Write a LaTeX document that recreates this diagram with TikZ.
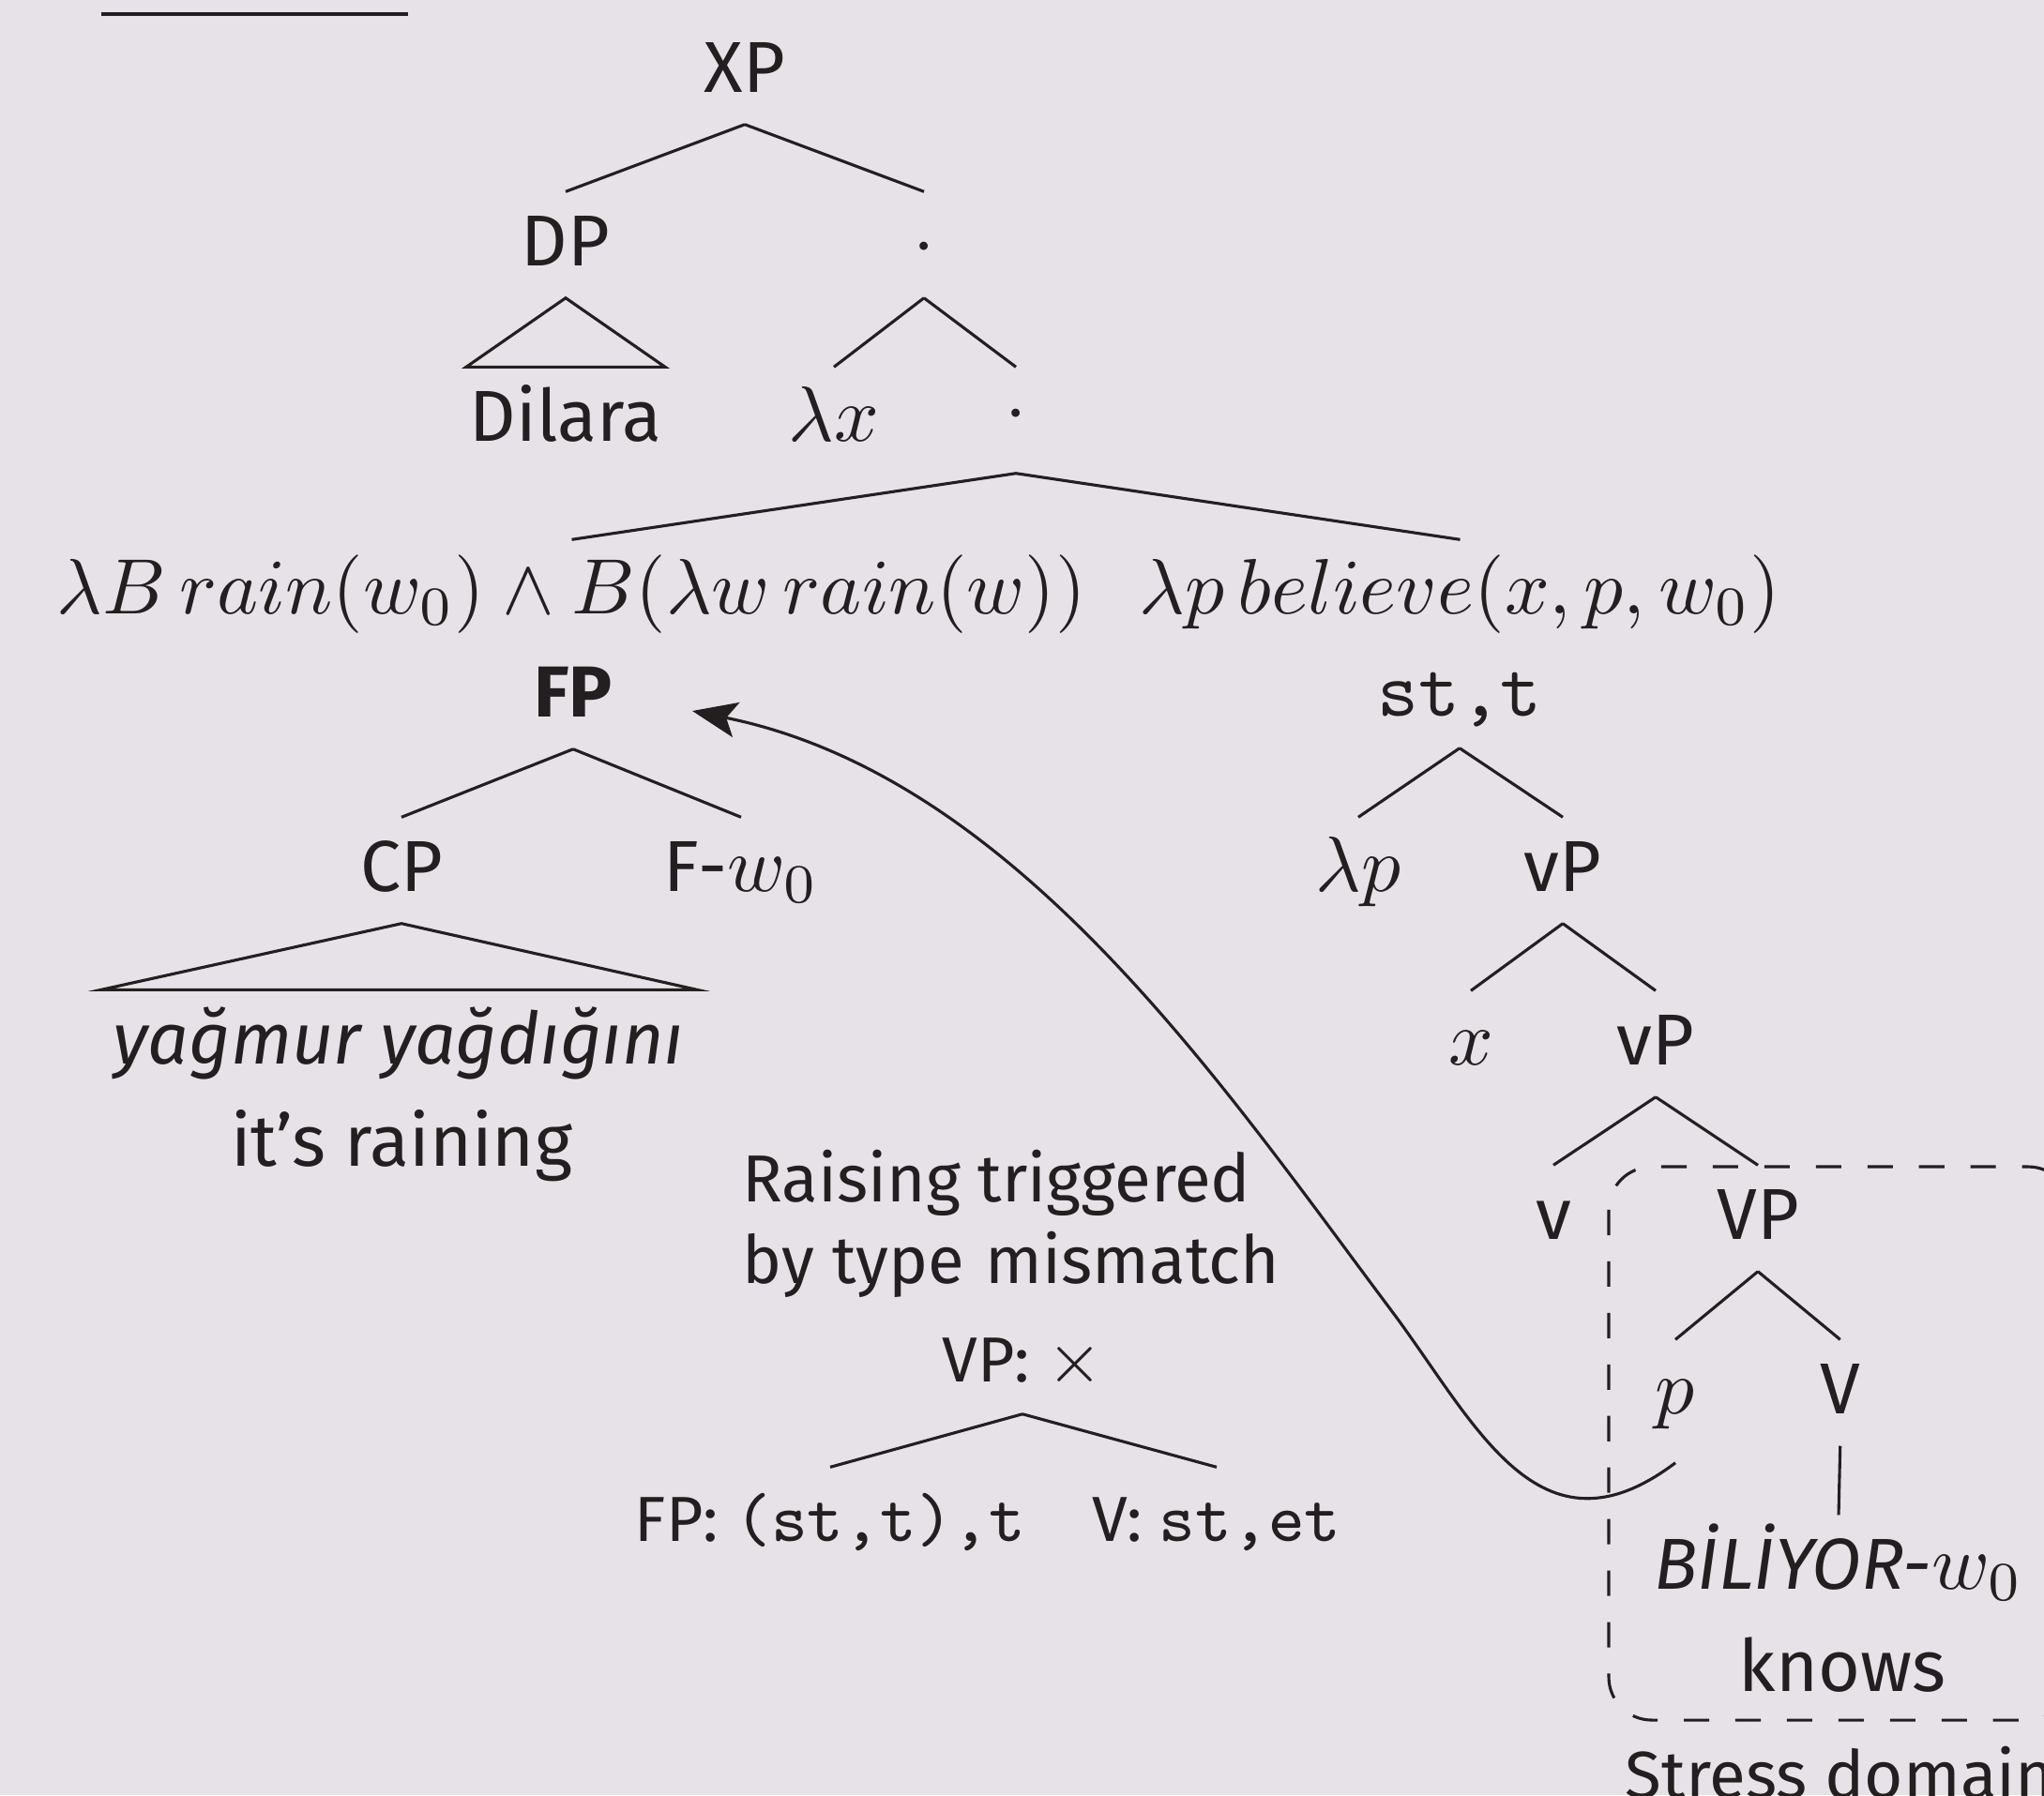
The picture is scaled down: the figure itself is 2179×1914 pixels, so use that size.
\RequirePackage{fix-cm}
\documentclass[tikz,border=0pt]{standalone}
\usepackage[no-math]{fontspec}
\setmainfont{Fira Sans}[Scale=0.92]
\usetikzlibrary{calc,arrows.meta}
\definecolor{bg}{RGB}{230,226,232}
\definecolor{ink}{RGB}{35,31,32}
\begin{document}
\begin{tikzpicture}[x=0.12195pt,y=-0.12195pt,
  tn/.style={anchor=base, inner xsep=3.3pt, inner ysep=4.03pt, text height=5.37pt, text depth=0pt, text=ink, font=\fontsize{10.2}{12}\selectfont},
  sm/.style={tn, font=\fontsize{9}{10.55}\selectfont},
  br/.style={draw=ink, line width=0.38pt},
  dashbox/.style={draw=ink, line width=0.38pt, dash pattern=on 3.3pt off 3.4pt, rounded corners=5.6pt},
  mv/.style={draw=ink, line width=0.38pt, -{Stealth[length=5.8pt,width=4.6pt,inset=1.3pt]}}
]
\fill[bg] (0,0) rectangle (2179,1914);
\useasboundingbox (0,0) rectangle (2179,1914);

\draw[br, line width=0.4pt] (108,15) -- (435,15);

% upper tree
\node[tn] (XP) at (794,98) {XP};
\node[tn] (DP) at (603,283) {DP};
\node[tn] (d1) at (985,283) {$\cdot$};
\node[tn] (Dil) at (603,470) {Dilara};
\node[tn] (lx) at (889,470) {$\lambda x$};
\node[tn] (d2) at (1083,470) {\raisebox{1pt}{$\cdot$}};
\node[tn] (mL) at (609.5,654) {$\lambda B\, rain(w_0) \wedge B(\lambda w\, rain(w))$};
\node[tn] (mR) at (1556.5,654) {$\lambda p\, believe(x,p,w_0)$};

\draw[br] (XP.south) -- (DP.north);
\draw[br] (XP.south) -- (d1.north);
\draw[br] (DP.south) -- ($(Dil.north)+(-106,0)$) -- ($(Dil.north)+(106,0)$) -- cycle;
\draw[br] (d1.south) -- (lx.north);
\draw[br] (d1.south) -- (d2.north);
\draw[br] (d2.south) -- (mL.north);
\draw[br] (d2.south) -- (mR.north);

% left subtree
\node[tn] (FP) at (611,764) {\textbf{FP}};
\node[tn] (CP) at (428,950) {CP};
\node[tn] (Fw) at (790,950) {F-$w_0$};
\node[tn] (yag) at (425,1134) {\textit{yağmur yağdığını}};
\node[tn] (rain) at (428,1243) {it’s raining};
\draw[br] (FP.south) -- (CP.north);
\draw[br] (FP.south) -- (Fw.north);
\draw[br] (CP.south) -- ($(yag.north)+(-317,0)$) -- ($(yag.north)+(318,0)$) -- cycle;

% right subtree
\node[tn] (stt) at (1556,763) {\texttt{st,t}};
\node[tn] (lp) at (1448,950) {$\lambda p$};
\node[tn] (vP1) at (1666,950) {vP};
\node[tn] (xx) at (1568,1135) {$x$};
\node[tn] (vP2) at (1765,1135) {vP};
\node[tn] (v) at (1656,1321) {v};
\node[tn] (VP) at (1874,1321) {VP};
\node[tn] (p) at (1786,1507) {$p$};
\node[tn] (V) at (1961.7,1507) {V};
\node[tn] (bil) at (1960,1694) {\textit{BİLİYOR-}$w_0$};
\node[tn] (knows) at (1964,1803) {knows};
\draw[br] (stt.south) -- (lp.north);
\draw[br] (stt.south) -- (vP1.north);
\draw[br] (vP1.south) -- (xx.north);
\draw[br] (vP1.south) -- (vP2.north);
\draw[br] (vP2.south) -- (v.north);
\draw[br] (vP2.south) -- (VP.north);
\draw[br] (VP.south) -- (p.north);
\draw[br] (VP.south) -- (V.north);
\draw[br] (V.south) -- (bil.north);

% stress domain
\draw[dashbox] (1715,1244) rectangle (2208,1834);
\node[tn, font=\fontsize{9.4}{11}\selectfont] (sd) at (1961.5,1917) {Stress domain};

% annotation
\node[anchor=base west, inner sep=0pt, align=left, text=ink, font=\fontsize{9.4}{10.6}\selectfont] (rt) at (790,1368) {Raising triggered\\by type\hspace{0.5pt} mismatch};
\node[sm] (VPx) at (1090,1473) {VP: $\times$};
\node[sm] (FPt) at (885,1643) {FP: \texttt{(st,t),t}};
\node[sm] (Vt) at (1297,1643) {V: \texttt{st,et}};
\draw[br] (VPx.south) -- (FPt.north);
\draw[br] (VPx.south) -- (Vt.north);

% movement arrow
\draw[mv] ($(p.south)+(0,18)$) .. controls (1640,1670) and (1573,1517) .. (1483,1397)
   .. controls (1303,1157) and (1083,828) .. ($(FP.base)+(127,-6)$);
\end{tikzpicture}
\end{document}
